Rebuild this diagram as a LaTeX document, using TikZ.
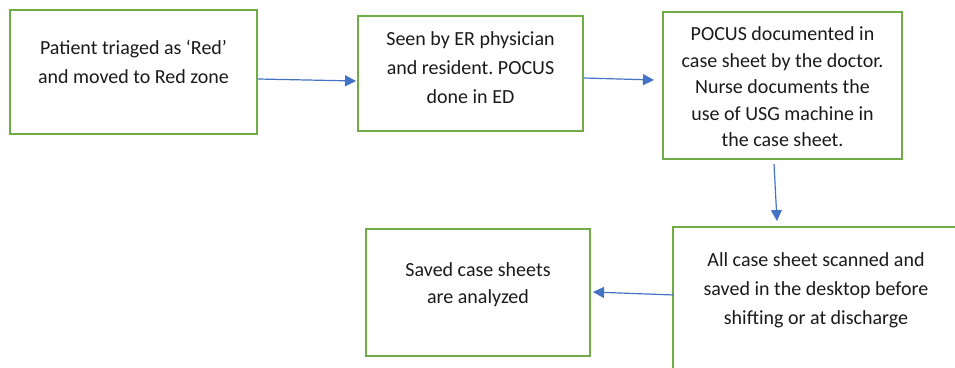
\documentclass[tikz,border=0pt]{standalone}
\usepackage{fontspec}
\setmainfont{Carlito}
\usetikzlibrary{arrows.meta,calc}
\definecolor{boxgreen}{HTML}{70AD47}
\definecolor{arrowblue}{HTML}{4472C4}
\definecolor{txt}{HTML}{1A1A1A}
\tikzset{
  stepbox/.style={draw=boxgreen, line width=2pt, inner sep=0pt, fill=none},
  steptext/.style={anchor=base, inner sep=0pt, text=txt},
  flow/.style={draw=arrowblue, line width=1.2pt, -{Triangle[length=11pt,width=11pt]}}
}
\frenchspacing
\newcommand{\boxlines}[2]{{\fontsize{20}{#1}\selectfont\setlength{\tabcolsep}{0pt}\begin{tabular}[t]{c}#2\end{tabular}}}
\begin{document}
\begin{tikzpicture}[x=1pt,y=-1pt]
\useasboundingbox (0,0) rectangle (955,367);
\clip (0,0) rectangle (955,367);
% boxes
\node[stepbox, minimum width=247pt, minimum height=124pt] (b1) at (133.5,72) {};
\node[stepbox, minimum width=225pt, minimum height=115pt] (b2) at (470.5,73.5) {};
\node[stepbox, minimum width=239pt, minimum height=147pt] (b3) at (782.5,85.5) {};
\node[stepbox, minimum width=286pt, minimum height=170pt] (b4) at (816,312) {};
\node[stepbox, minimum width=224pt, minimum height=127pt] (b5) at (478,292.5) {};
% texts
\node[steptext] (t1) at (133.5,54.3) {\boxlines{29}{Patient triaged as ‘Red’\\and moved to Red zone}};
\node[steptext] (t2) at (470.5,45) {\boxlines{29}{Seen by ER physician\\and resident. POCUS\\done in ED}};
\node[steptext] (t3) at (782.5,40.7) {\boxlines{26.5}{POCUS documented in\\case sheet by the doctor.\\Nurse documents the\\use of USG machine in\\the case sheet.}};
\node[steptext] (t4) at (816,266) {\boxlines{29}{All case sheet scanned and\\saved in the desktop before\\shifting or at discharge}};
\node[steptext] (t5) at (478,276) {\boxlines{27.5}{Saved case sheets\\are analyzed}};
% connectors
\draw[flow] ($(b1.east)+(0,7)$) -- ($(b2.west)+(-1,7.5)$);
\draw[flow] ($(b2.east)+(0,4.5)$) -- ($(b3.west)+(-8,-5.5)$);
\draw[flow] ($(b3.south)+(-8.5,4)$) -- ($(b4.north)+(-39,-5)$);
\draw[flow] ($(b4.north west)+(2,69)$) -- ($(b5.east)+(2,-0.5)$);
\end{tikzpicture}
\end{document}
